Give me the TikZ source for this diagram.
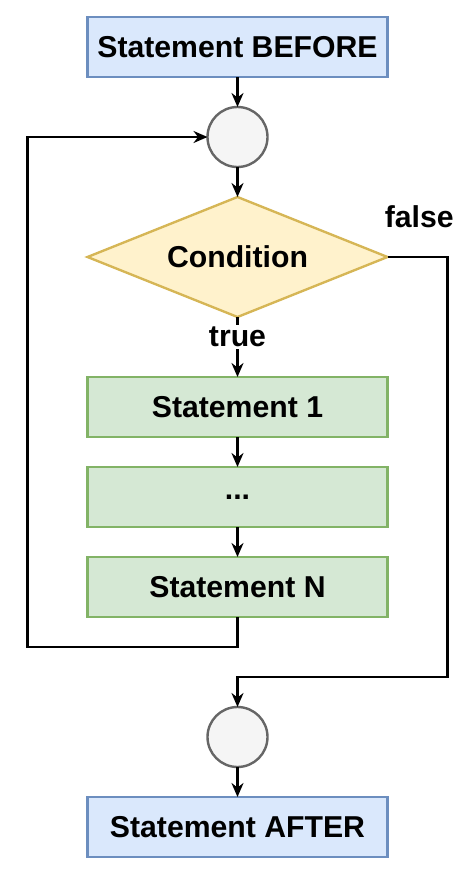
\documentclass[tikz,border=0pt]{standalone}
\usepackage{fontspec}
\setmainfont{Liberation Sans}
\usepackage{tikz}
\usetikzlibrary{positioning,arrows.meta,calc,shapes.geometric}
\definecolor{blueline}{HTML}{6C8EBF}
\definecolor{bluefill}{HTML}{DAE8FC}
\definecolor{greenline}{HTML}{82B366}
\definecolor{greenfill}{HTML}{D5E8D4}
\definecolor{amberline}{HTML}{D6B656}
\definecolor{amberfill}{HTML}{FFF2CC}
\definecolor{greyline}{HTML}{666666}
\definecolor{greyfill}{HTML}{F5F5F5}
\tikzset{
  bluebox/.style={draw=blueline,fill=bluefill,line width=1.2pt,minimum width=150pt,minimum height=30pt,inner sep=0,outer sep=0,align=center},
  greenbox/.style={draw=greenline,fill=greenfill,line width=1.2pt,minimum width=150pt,minimum height=30pt,inner sep=0,outer sep=0,align=center},
  decision/.style={diamond,aspect=2.5,draw=amberline,fill=amberfill,line width=1.2pt,minimum width=150pt,minimum height=60pt,inner sep=0,outer sep=0},
  junction/.style={circle,draw=greyline,fill=greyfill,line width=1.2pt,minimum size=30pt,inner sep=0,outer sep=0},
  flow/.style={-{Stealth[length=7pt,width=6pt]},draw=black,line width=1.2pt},
  lbl/.style={font=\fontsize{15.1}{17}\selectfont\bfseries}}

\begin{document}
\begin{tikzpicture}[x=0.5pt,y=-0.5pt,font=\fontsize{15.1}{17}\selectfont\bfseries]
  \useasboundingbox (0,0) rectangle (476,873);
  % straight column of the loop
  \node[bluebox] (before) at (237.5,47) {Statement BEFORE};
  \node[junction,below=15pt of before] (merge) {};
  \node[decision,below=15pt of merge] (cond) {Condition};
  \node[greenbox,below=30pt of cond] (stone) {Statement 1};
  \node[greenbox,below=15pt of stone] (dots) {...};
  \node[greenbox,below=15pt of dots] (stn) {Statement N};
  \node[junction,below=45pt of stn] (done) {};
  \node[bluebox,below=15pt of done] (after) {Statement AFTER};
  \draw[flow] (before) -- (merge);
  \draw[flow] (merge) -- (cond);
  \draw[flow] (cond.south) -- node[lbl,fill=white,pos=0.33,inner sep=1pt]{true} (stone.north);
  \draw[flow] (stone) -- (dots);
  \draw[flow] (dots) -- (stn);
  \draw[flow] (done) -- (after);
  % back edge and exit
  \draw[flow] (stn.south) -- ++(0,30) -- ++(-210,0) |- (merge.west);
  \draw[flow] (cond.east) -- node[lbl,pos=0.53,yshift=20pt]{false} ++(60,0)
    |- ($(done.north)+(0,-30)$) -- (done.north);
\end{tikzpicture}
\end{document}
